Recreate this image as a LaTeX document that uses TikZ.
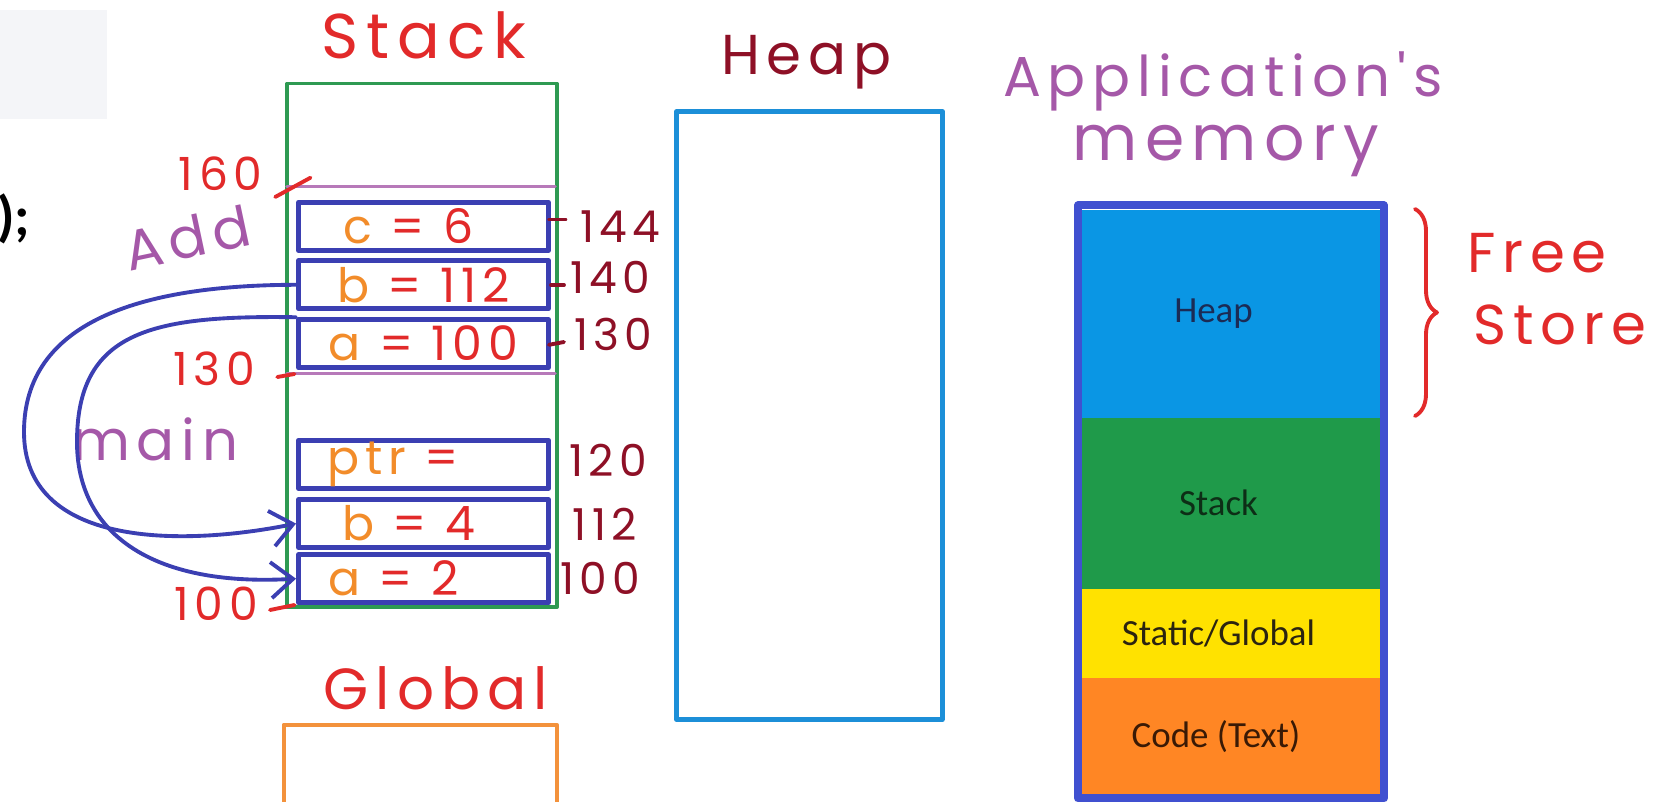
\documentclass[tikz,border=0pt]{standalone}
\usepackage{fontspec}
\setmainfont{Carlito}
\newfontfamily\hand[LetterSpace=12]{Poppins}
\usetikzlibrary{arrows.meta,positioning,decorations.pathreplacing}
\definecolor{inkred}{HTML}{E22A2A}
\definecolor{inkmaroon}{HTML}{8E1026}
\definecolor{inkpurple}{HTML}{A558A8}
\definecolor{inkorange}{HTML}{F28C2A}
\definecolor{boxblue}{HTML}{3B3FB2}
\definecolor{stackgreen}{HTML}{2E9A52}
\definecolor{heapcyan}{HTML}{1C8FD8}
\definecolor{globorange}{HTML}{F3923C}
\definecolor{seglblue}{HTML}{0A96E4}
\definecolor{seggreen}{HTML}{1F9A4A}
\definecolor{segyellow}{HTML}{FFE200}
\definecolor{segorange}{HTML}{FF8624}
\definecolor{barblue}{HTML}{4050D0}
\definecolor{codegray}{HTML}{F4F5F8}
\newcommand{\varval}[2]{\textcolor{inkorange}{#1}\ \textcolor{inkred}{#2}}
\tikzset{
  >={Straight Barb[length=2.2mm,width=3.6mm]},
  handtitle/.style={font=\hand\fontsize{18}{18}\selectfont, anchor=base, inner sep=0pt},
  slot/.style={draw=boxblue, line width=1.4pt, minimum width=2.5cm, minimum height=0.48cm,
               inner sep=0pt, font=\hand\fontsize{13.5}{14}\selectfont},
  loaddr/.style={font=\hand\fontsize{13}{13}\selectfont, text=inkred, anchor=base, inner sep=0pt},
  hiaddr/.style={font=\hand\fontsize{12.5}{13}\selectfont, text=inkmaroon, anchor=base, inner sep=0pt},
  addrtick/.style={inkred, line width=1.1pt},
  hitick/.style={inkmaroon, line width=1.1pt},
  frameline/.style={inkpurple!80, line width=1pt},
  framelbl/.style={font=\hand\fontsize{16}{16}\selectfont, text=inkpurple, inner sep=0pt},
  callarrow/.style={boxblue, line width=1.1pt, ->},
  memseg/.style={minimum width=2.98cm, inner sep=0pt, font=\fontsize{10.5}{12}\selectfont},
  codetxt/.style={font=\fontsize{16}{16}\selectfont\bfseries, inner sep=0pt},
}
\begin{document}
\begin{tikzpicture}[line cap=round, line join=round]
\useasboundingbox (0,0) rectangle (16.79,8.02);
\clip (0,0) rectangle (16.79,8.02);

% code panel, cut at the left edge
\fill[codegray] (0,6.825) rectangle (1.071,7.917);
\node[codetxt, anchor=east] (semi) at (0.31,5.83) {);};

% ---------------- stack ----------------
\node[handtitle, text=inkred] (stacktitle) at (4.24,7.431) {Stack};
\node[draw=stackgreen, line width=1pt, minimum width=2.70cm, minimum height=5.236cm,
      inner sep=0pt] (stackbox) at (4.22,4.567) {};
\draw[frameline] (2.87,6.157) -- (5.55,6.157);
\draw[frameline] (2.87,4.283) -- (5.55,4.283);

\node[slot] (slotc)   at (4.235,5.756) {\varval{c}{= 6}\hspace*{0.3cm}};
\node[slot] (slotb)   at (4.235,5.172) {\varval{b}{= 112}};
\node[slot] (slota)   at (4.235,4.583) {\varval{a}{= 100}};
\node[slot] (slotptr) at (4.235,3.378) {\varval{ptr}{=}\hspace*{0.6cm}};
\node[slot] (slotbm)  at (4.235,2.784) {\varval{b}{= 4}\hspace*{0.3cm}};
\node[slot] (slotam)  at (4.235,2.233) {\varval{a}{= 2}\hspace*{0.6cm}};

% addresses left
\node[loaddr] (lo160) at (2.206,6.114) {160};
\draw[addrtick] (2.752,6.050) -- (3.105,6.243);
\node[loaddr] (lo130) at (2.142,4.165) {130};
\draw[addrtick] (2.773,4.250) -- (2.945,4.280);
\node[loaddr] (lo100) at (2.163,1.810) {100};
\draw[addrtick] (2.700,1.920) -- (2.945,1.970);

% addresses right
\draw[hitick] (5.493,5.825) -- (5.654,5.825);
\node[hiaddr] (hi144) at (6.200,5.590) {144};
\draw[hitick] (5.510,5.170) -- (5.640,5.170);
\node[hiaddr] (hi140) at (6.100,5.086) {140};
\draw[hitick] (5.490,4.572) -- (5.640,4.600);
\node[hiaddr] (hi130) at (6.135,4.519) {130};
\node[hiaddr] (hi120) at (6.082,3.255) {120};
\node[hiaddr] (hi112) at (6.049,2.613) {112};
\node[hiaddr] (hi100) at (6.000,2.077) {100};

% frames
\node[framelbl, rotate=12] (addlbl) at (1.874,5.643) {Add};
\node[framelbl] (mainlbl) at (1.553,3.630) {main};

% pointers back into main
\draw[callarrow] (slotb.west) .. controls (1.4,5.17) and (0.24,4.8) .. (0.24,3.7)
  .. controls (0.24,2.55) and (1.8,2.55) .. (slotbm.west);
\draw[callarrow] (slota.north west) .. controls (1.5,4.87) and (0.77,4.7) .. (0.77,3.6)
  .. controls (0.77,2.7) and (1.5,2.15) .. (slotam.west);

% ---------------- global ----------------
\node[handtitle, text=inkred, font=\hand\fontsize{16.5}{17}\selectfont] (globtitle) at (4.358,0.921) {Global};
\draw[globorange, line width=1.3pt] (2.838,-0.4) rectangle (5.568,0.771);

% ---------------- heap ----------------
\node[handtitle, text=inkmaroon, font=\hand\fontsize{16}{16}\selectfont] (heaptitle) at (8.063,7.271) {Heap};
\node[draw=heapcyan, line width=1.3pt, minimum width=2.656cm, minimum height=6.082cm,
      inner sep=0pt] (heapbox) at (8.095,3.866) {};

% ---------------- application's memory ----------------
\node[handtitle, text=inkpurple, font=\hand\fontsize{16}{16}\selectfont] (apptitle) at (12.23,7.057) {Application's};
\node[handtitle, text=inkpurple] (memtitle) at (12.26,6.414) {memory};

\node[memseg, fill=seglblue, minimum height=2.081cm, text={rgb,255:red,27;green,43;blue,85}] (heapseg) at (12.31,4.884) {Heap\hspace*{0.35cm}};
\node[memseg, fill=seggreen, minimum height=1.713cm, text={rgb,255:red,13;green,46;blue,22}] (stackseg) at (12.31,2.988) {Stack\hspace*{0.25cm}};
\node[memseg, fill=segyellow, minimum height=0.889cm, text={rgb,255:red,43;green,36;blue,16}] (staticseg) at (12.31,1.687) {Static/Global\hspace*{0.25cm}};
\node[memseg, fill=segorange, minimum height=1.167cm, text={rgb,255:red,58;green,26;blue,5}] (codeseg) at (12.31,0.659) {Code (Text)\hspace*{0.3cm}};
\draw[barblue, line width=0.08cm] (10.78,0.035) rectangle (13.84,5.965);

\draw[inkred, line width=1.1pt, decorate, decoration={brace, amplitude=0.22cm}]
  (14.15,5.93) -- (14.15,3.86);
\node[handtitle, text=inkred, font=\hand\fontsize{16}{16}\selectfont] (freelbl) at (15.37,5.290) {Free};
\node[handtitle, text=inkred, font=\hand\fontsize{16}{16}\selectfont] (storelbl) at (15.60,4.572) {Store};

\end{tikzpicture}
\end{document}
